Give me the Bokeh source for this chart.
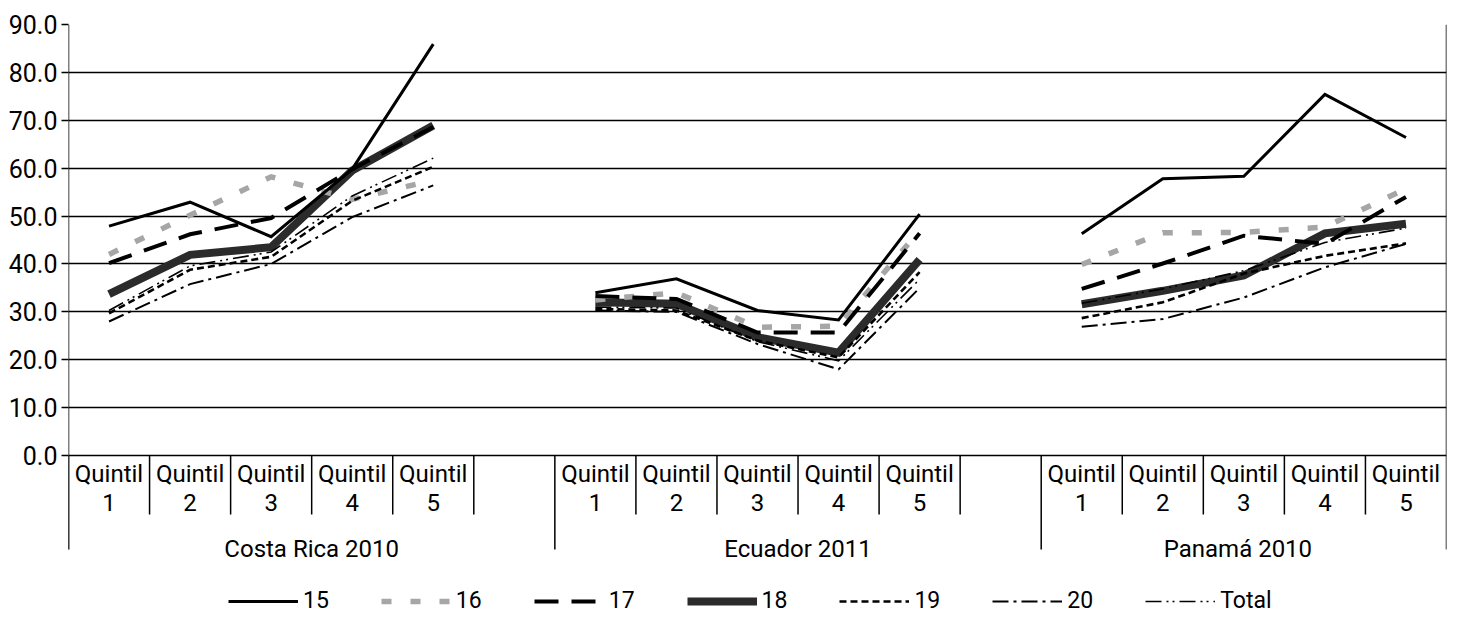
from bokeh.plotting import figure
from bokeh.models import (Range1d, FixedTicker, NumeralTickFormatter, Legend, LegendItem)
from bokeh.core.properties import value
from bokeh.embed import file_html
from bokeh.resources import INLINE

# ---- data ----
countries = ["Costa Rica 2010", "Ecuador 2011", "Panamá   2010"]
quintiles = ["Quintil\n1", "Quintil\n2", "Quintil\n3", "Quintil\n4", "Quintil\n5"]
series_names = ["15", "16", "17", "18", "19", "20", "Total"]

# values per series: Costa Rica Q1..Q5, Ecuador Q1..Q5, Panamá Q1..Q5
s15 = [47.9, 52.9, 45.7, 59.8, 85.9,  34.0, 36.9, 30.3, 28.3, 50.4,  46.3, 57.8, 58.3, 75.4, 66.4]
s16 = [42.0, 50.2, 58.2, 53.5, 57.5,  32.5, 34.0, 26.8, 27.0, 47.0,  39.9, 46.5, 46.6, 47.7, 55.7]
s17 = [40.2, 46.2, 49.6, 59.8, 68.6,  33.3, 32.7, 25.7, 25.7, 46.4,  34.8, 40.1, 45.9, 44.2, 54.0]
s18 = [33.7, 41.9, 43.5, 59.5, 68.9,  32.0, 31.7, 24.7, 21.5, 40.9,  31.6, 34.4, 37.6, 46.4, 48.4]
s19 = [29.7, 38.8, 41.5, 53.2, 60.3,  30.6, 30.3, 24.0, 20.5, 38.3,  28.7, 32.0, 38.0, 41.7, 44.3]
s20 = [28.0, 35.8, 40.0, 49.8, 56.4,  30.3, 30.0, 23.3, 18.0, 35.0,  26.9, 28.5, 33.0, 39.3, 44.2]
sTotal = [30.3, 39.6, 42.5, 54.2, 62.1,  31.0, 30.8, 23.8, 19.8, 36.8,  31.8, 34.8, 38.6, 44.5, 47.5]
y_ticks = [0, 10, 20, 30, 40, 50, 60, 70, 80, 90]

FONT_NAME = "Roboto"
FONT = value(FONT_NAME)

n_q = len(quintiles)
slot = n_q + 1  # five quintiles plus a blank slot per country
n_slots = slot * len(countries) - 1

y_bottom = -36.1      # frame extends below zero to hold category labels and legend
y_sep = -12.3         # bottom of quintile separators
y_grp = -19.6         # bottom of country separators

p = figure(width=1456, height=628, output_backend="svg", toolbar_location=None,
           x_range=Range1d(0, n_slots), y_range=Range1d(y_bottom, 90),
           min_border_left=68, min_border_top=24, min_border_right=10, min_border_bottom=0)
p.outline_line_color = None
p.background_fill_color = "white"
p.border_fill_color = "white"
p.xaxis.visible = False
p.xgrid.visible = False
p.ygrid.ticker = FixedTicker(ticks=y_ticks)
p.ygrid.grid_line_color = "black"
p.ygrid.grid_line_width = 1.3
p.yaxis.ticker = FixedTicker(ticks=y_ticks)
p.yaxis.formatter = NumeralTickFormatter(format="0.0")
p.yaxis.axis_line_color = None
p.yaxis.major_tick_out = 7
p.yaxis.major_tick_in = 0
p.yaxis.major_tick_line_color = "black"
p.yaxis.major_tick_line_width = 1.3
p.yaxis.minor_tick_line_color = None
p.yaxis.major_label_text_font = FONT_NAME
p.yaxis.major_label_text_font_size = "25px"
p.yaxis.major_label_text_color = "black"
p.yaxis.major_label_standoff = 4

# x positions from group/quintile indices
def xs_for(vals):
    xs, ys = [], []
    for g in range(len(countries)):
        xs.append([g * slot + q + 0.5 for q in range(n_q)])
        ys.append(vals[g * n_q:(g + 1) * n_q])
    return xs, ys

styles = {
    "15": dict(line_color="black", line_width=3, line_dash="solid"),
    "16": dict(line_color="#A6A6A6", line_width=5.5, line_dash="10 19"),
    "17": dict(line_color="black", line_width=4, line_dash="24 13"),
    "18": dict(line_color="#2B2B2B", line_width=8, line_dash="solid"),
    "19": dict(line_color="black", line_width=2.6, line_dash="7 4"),
    "20": dict(line_color="black", line_width=2, line_dash="16 5 3 5"),
    "Total": dict(line_color="black", line_width=1.6, line_dash="16 5 2 4 2 5"),
}
data = {"15": s15, "16": s16, "17": s17, "18": s18, "19": s19, "20": s20, "Total": sTotal}

order = ["18", "16", "17", "15", "19", "20", "Total"]
renderers = {}
for name in order:
    xs, ys = xs_for(data[name])
    renderers[name] = p.multi_line(xs=xs, ys=ys, line_join="miter", line_cap="butt", **styles[name])

# left & right frame lines
p.segment(x0=[0, n_slots], y0=[y_grp, y_grp], x1=[0, n_slots], y1=[90, 90],
          line_color="black", line_width=1.5)

# category separators
sep_x, grp_x = [], []
for g in range(len(countries)):
    for q in range(1, n_q + 1):
        sep_x.append(g * slot + q)
    grp_x.append(g * slot)
sep_x = [x for x in sep_x if x < n_slots]
p.segment(x0=sep_x, y0=[0] * len(sep_x), x1=sep_x, y1=[y_sep] * len(sep_x),
          line_color="black", line_width=1.5)
p.segment(x0=grp_x, y0=[0] * len(grp_x), x1=grp_x, y1=[y_grp] * len(grp_x),
          line_color="black", line_width=1.5)

# quintile labels
qx, qt = [], []
for g in range(len(countries)):
    for q in range(n_q):
        qx.append(g * slot + q + 0.5)
        qt.append(quintiles[q])
p.text(x=qx, y=[-6.9] * len(qx), text=qt, text_align="center", text_baseline="middle",
       text_font=FONT, text_font_size="24px", text_color="black", text_line_height=1.05)

# country labels
cx = []
for g in range(len(countries)):
    end = min(g * slot + slot, n_slots)
    cx.append((g * slot + end) / 2)
p.text(x=cx, y=[-19.6] * len(cx), text=countries, text_align="center", text_baseline="middle",
       text_font=FONT, text_font_size="24px", text_color="black")

legend = Legend(items=[LegendItem(label=n, renderers=[renderers[n]]) for n in series_names],
                orientation="horizontal", location=(160, 14),
                glyph_width=70, glyph_height=24, label_height=24, label_standoff=5,
                spacing=52, padding=0, margin=0,
                label_text_font=FONT_NAME, label_text_font_size="23px",
                label_text_color="black", border_line_color=None, background_fill_alpha=0)
p.add_layout(legend, "center")

open("out.html", "w").write(file_html(p, INLINE))
